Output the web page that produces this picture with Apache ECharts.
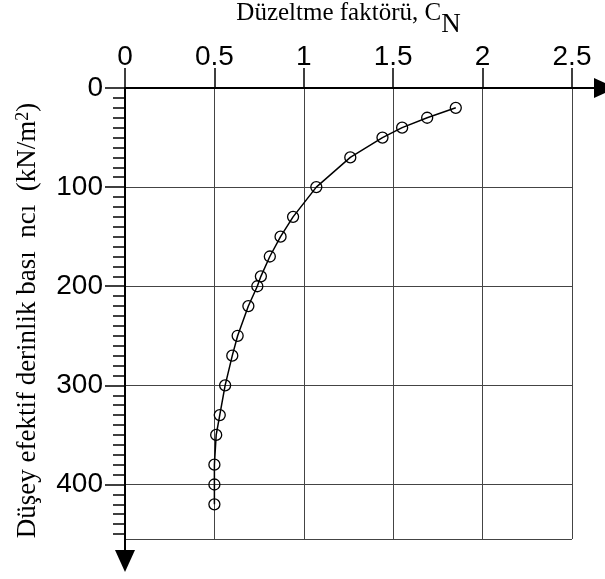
<!DOCTYPE html>
<html>
<head>
<meta charset="utf-8">
<script src="https://cdn.jsdelivr.net/npm/echarts@6/dist/echarts.min.js"></script>
<style>
html,body{margin:0;padding:0;background:#fff;}
#chart{width:605px;height:579px;}
</style>
</head>
<body>
<div id="chart"></div>
<script>
// Data
const pressure = [20, 30, 40, 50, 70, 100, 130, 150, 170, 190, 200, 220, 250, 270, 300, 330, 350, 380, 400, 420];
const cnValues = [1.85, 1.69, 1.55, 1.44, 1.26, 1.07, 0.94, 0.87, 0.81, 0.76, 0.74, 0.69, 0.63, 0.60, 0.56, 0.53, 0.51, 0.50, 0.50, 0.50];
const xTicks = [0, 0.5, 1, 1.5, 2, 2.5];
const yMajorTicks = [0, 100, 200, 300, 400];
const yMinorTicks = [0, 10, 20, 30, 40, 50, 60, 70, 80, 90, 100, 110, 120, 130, 140, 150, 160, 170, 180, 190, 200,
  210, 220, 230, 240, 250, 260, 270, 280, 290, 300, 310, 320, 330, 340, 350, 360, 370, 380, 390, 400,
  410, 420, 430, 440, 450];
const xMax = 2.5;
const yMax = 455;

const chart = echarts.init(document.getElementById('chart'), null, {renderer: 'canvas'});
const sans = 'Liberation Sans';
const serif = 'Liberation Serif';
const gridColor = '#444';

const seriesData = pressure.map((p, i) => [cnValues[i], p]);

chart.setOption({
  animation: false,
  backgroundColor: '#fff',
  grid: [
    {left: 125, top: 88, width: 447, height: 451, containLabel: false, outerBoundsMode: 'none'},
    {left: 125, top: 88, width: 480, height: 473, containLabel: false, outerBoundsMode: 'none'}
  ],
  xAxis: [
    {
      gridIndex: 0, type: 'value', position: 'top', min: 0, max: xMax, interval: 0.5,
      axisLine: {show: false},
      axisTick: {show: true, inside: false, length: 20, lineStyle: {color: '#000', width: 1.5}, customValues: xTicks},
      axisLabel: {show: true, margin: 17, color: '#000', fontFamily: sans, fontSize: 28, customValues: xTicks},
      splitLine: {show: true, lineStyle: {color: gridColor, width: 1}},
      name: '{a|Düzeltme faktörü, C}{b|N}',
      nameLocation: 'middle', nameGap: 49,
      nameTextStyle: {
        rich: {
          a: {fontFamily: serif, fontSize: 25, color: '#000', verticalAlign: 'top'},
          b: {fontFamily: serif, fontSize: 27, color: '#000', verticalAlign: 'bottom', padding: [10, 0, 0, 0]}
        }
      }
    },
    {
      gridIndex: 1, type: 'value', position: 'top', min: 0, max: 1,
      axisLine: {show: true, symbol: ['none', 'triangle'], symbolSize: [20, 22], lineStyle: {color: '#000', width: 2}},
      axisTick: {show: false}, axisLabel: {show: false}, splitLine: {show: false}
    }
  ],
  yAxis: [
    {
      gridIndex: 0, type: 'value', inverse: true, min: 0, max: yMax, interval: 100,
      axisLine: {show: false},
      axisTick: {show: false},
      axisLabel: {show: true, margin: 22, color: '#000', fontFamily: sans, fontSize: 28, verticalAlign: 'middle', customValues: yMajorTicks},
      splitLine: {show: true, lineStyle: {color: gridColor, width: 1}}
    },
    {
      gridIndex: 0, type: 'value', inverse: true, min: 0, max: yMax, position: 'left',
      axisLine: {show: false},
      axisTick: {show: true, length: 20, lineStyle: {color: '#000', width: 1.5}, customValues: yMajorTicks},
      axisLabel: {show: false},
      splitLine: {show: false}
    },
    {
      gridIndex: 0, type: 'value', inverse: true, min: 0, max: yMax, position: 'left',
      axisLine: {show: false},
      axisTick: {show: true, length: 12, lineStyle: {color: '#000', width: 1.5}, customValues: yMinorTicks},
      axisLabel: {show: false},
      splitLine: {show: false}
    },
    {
      gridIndex: 1, type: 'value', inverse: true, min: 0, max: 1, position: 'left',
      axisLine: {show: true, symbol: ['triangle', 'none'], symbolSize: [20, 22], lineStyle: {color: '#000', width: 2}},
      axisTick: {show: false}, axisLabel: {show: false}, splitLine: {show: false},
      name: '{a|Düşey efektif derinlik bası  ncı  (kN/m}{s|2}{a|)}',
      nameLocation: 'middle', nameRotate: 90, nameGap: 84,
      nameTextStyle: {
        padding: [0, 0, 0, 8],
        rich: {
          a: {fontFamily: serif, fontSize: 27, color: '#000', verticalAlign: 'bottom'},
          s: {fontFamily: serif, fontSize: 18, color: '#000', verticalAlign: 'top'}
        }
      }
    }
  ],
  series: [
    {
      type: 'line', xAxisIndex: 0, yAxisIndex: 0,
      data: seriesData,
      symbol: 'circle', symbolSize: 11,
      lineStyle: {color: '#000', width: 1.5},
      itemStyle: {color: 'rgba(255,255,255,0)', borderColor: '#000', borderWidth: 1.3},
      z: 5
    }
  ]
});
</script>
</body>
</html>
